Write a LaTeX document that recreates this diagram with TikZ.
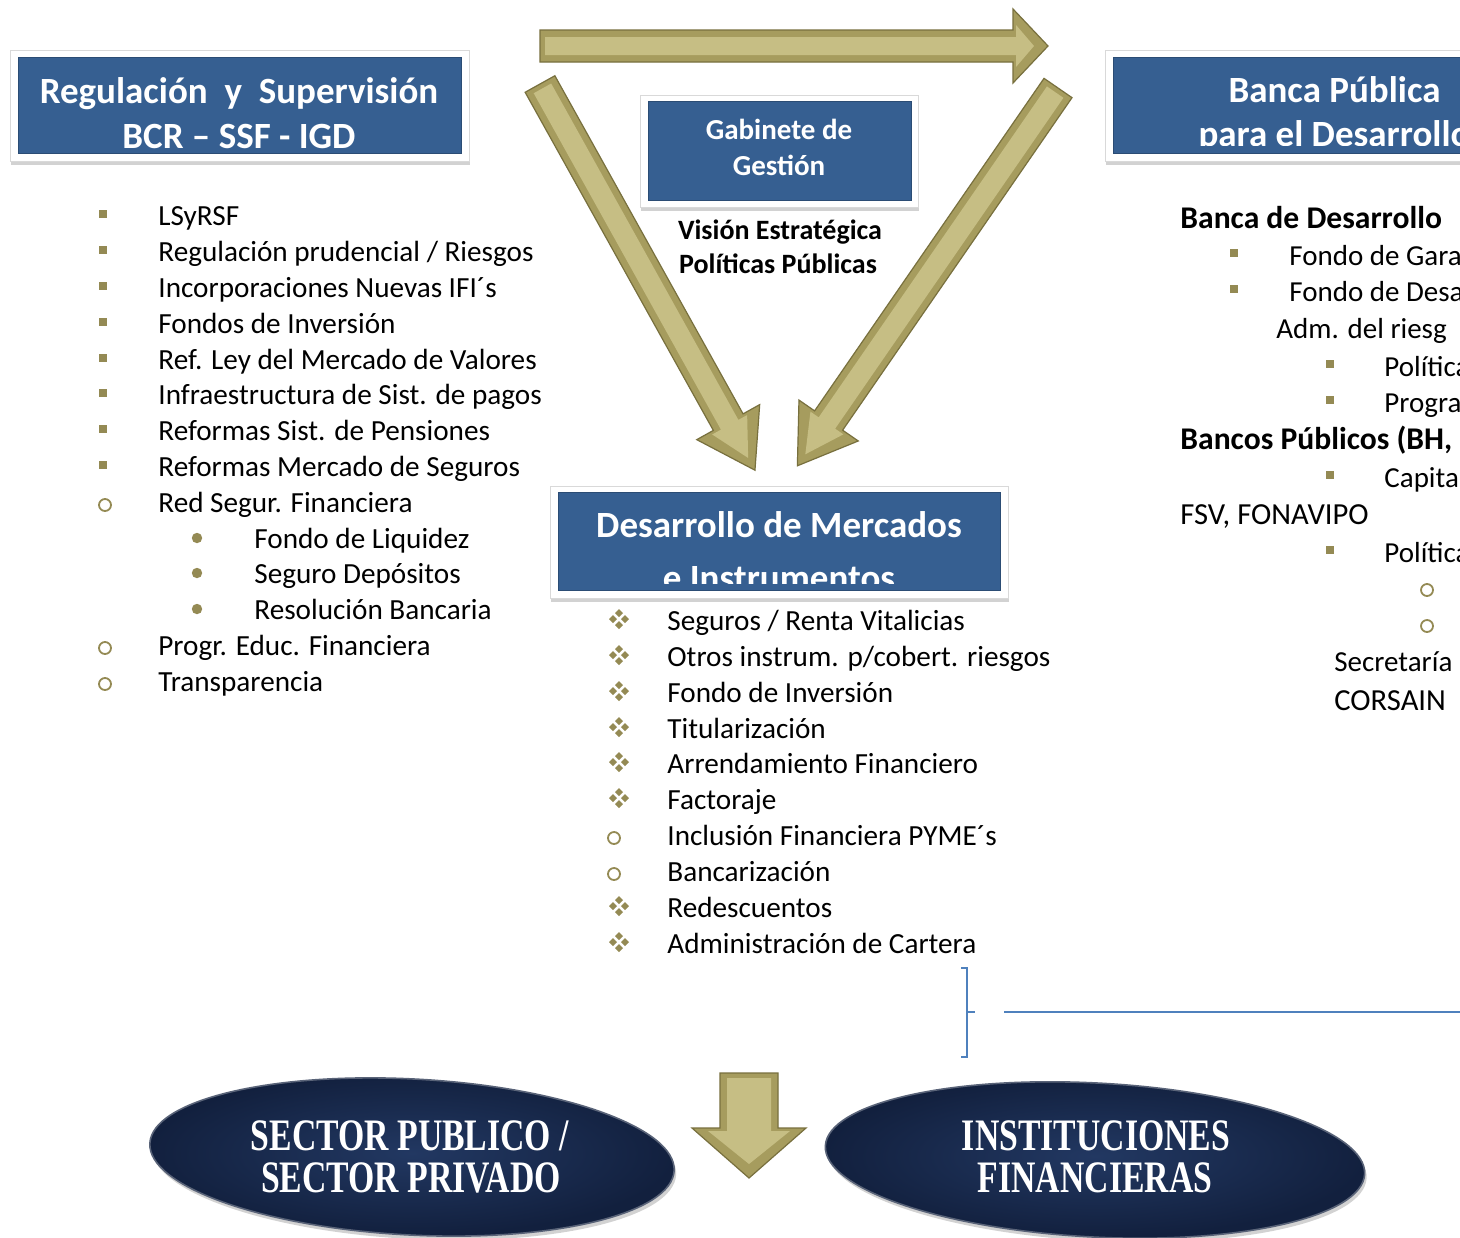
\documentclass[tikz,border=0pt]{standalone}
\usepackage{fontspec}
\setmainfont{Carlito}
\newfontfamily\condserif{Liberation Serif}
\usetikzlibrary{shadows,shapes.geometric}
\definecolor{boxblue}{RGB}{54,95,145}
\definecolor{bulcol}{RGB}{148,138,84}
\definecolor{linkblue}{RGB}{79,129,189}
\definecolor{goldmain}{RGB}{166,156,94}
\definecolor{goldlight}{RGB}{198,190,132}
\definecolor{goldedge}{RGB}{120,112,62}
\definecolor{navyin}{RGB}{34,56,98}
\definecolor{navyout}{RGB}{18,32,62}
\newcommand\sqbul[2]{\fill[bulcol, shift={(#1,#2)}] (-4,-6) rectangle (4,2);}
\newcommand\circbul[2]{\draw[bulcol, line width=0.9pt, shift={(#1,#2)}] (0,0) circle[radius=3pt];}
\newcommand\dotbul[2]{\fill[bulcol, shift={(#1,#2)}] (0,-2) circle[radius=2.6pt];}
\newcommand\dmbul[2]{\begin{scope}[shift={(#1,#2-2)}]\foreach \p in {(0,-6),(6,0),(0,6),(-6,0)}{\fill[bulcol] \p ++(-4,0) -- ++(4,-4) -- ++(4,4) -- ++(-4,4) -- cycle;}\end{scope}}
% #1 x, #2 y, #3 angle, #4 length, #5 shaft half width, #6 head half width, #7 head length
\newcommand\goldarrow[7]{\begin{scope}[shift={(#1,#2)}, rotate=#3]
\fill[goldmain, draw=goldedge, line width=0.6pt] (0,#5) -- (#4-#7,#5) -- (#4-#7,#6) -- (#4,0) -- (#4-#7,-#6) -- (#4-#7,-#5) -- (0,-#5) -- cycle;
\fill[goldlight] (5,#5-7) -- (#4-#7+3,#5-7) -- (#4-#7+3,#6-16) -- (#4-14,0) -- (#4-#7+3,-#6+16) -- (#4-#7+3,-#5+7) -- (5,-#5+7) -- cycle;
\end{scope}}
\tikzset{
  frame/.style={fill=white, draw=black!15, line width=0.4pt, drop shadow={shadow xshift=0.6pt, shadow yshift=-1.8pt, opacity=0.35}},
  bluebox/.style={fill=boxblue, draw=boxblue!80!black, line width=0.3pt},
  titletext/.style={anchor=base, text=white, inner sep=0, font=\bfseries\fontsize{18.5}{22}\selectfont},
  gabtext/.style={anchor=base, text=white, inner sep=0, font=\bfseries\fontsize{14.5}{17}\selectfont},
  boldcap/.style={anchor=base, inner sep=0, font=\bfseries\fontsize{14}{17}\selectfont},
  body/.style={anchor=base west, inner sep=0, font=\fontsize{14.6}{17}\selectfont},
  rbody/.style={anchor=base west, inner sep=0, font=\fontsize{14.5}{18}\selectfont},
  rwide/.style={anchor=base west, inner sep=0, font=\fontsize{15.3}{18}\selectfont},
  rbold/.style={anchor=base west, inner sep=0, font=\bfseries\fontsize{15.8}{18}\selectfont},
  oval/.style={ellipse, inner color=navyin, outer color=navyout, draw=navyout!70!white, line width=0.8pt, drop shadow={shadow xshift=1pt, shadow yshift=-2pt, opacity=0.35}},
  ovaltext/.style={anchor=base, text=white, inner sep=0, font=\condserif\bfseries\fontsize{22.5}{27}\selectfont},
  link/.style={draw=linkblue, line width=1.1pt}
}
\begin{document}
\begin{tikzpicture}[x=0.5pt,y=-0.5pt]
\useasboundingbox (0,0) rectangle (1460,1237);
\fill[white] (0,0) rectangle (1460,1237);
\clip (0,0) rectangle (1460,1237);

% ---------- gold arrows ----------
\goldarrow{540}{46}{0}{508}{16}{37}{35}
\goldarrow{540}{84}{-60.9}{442}{17}{36}{55}
\goldarrow{1058}{88}{-124.6}{459}{17}{36}{55}
\goldarrow{749}{1073}{-90}{105}{29}{57}{50}

% ---------- title boxes ----------
\node[frame, minimum width=229.5pt, minimum height=55.5pt] (regframe) at (239.5,105.5) {};
\node[bluebox, minimum width=221.5pt, minimum height=48pt] (reg) at (239.5,105) {};
\begin{scope}
\clip (18,57) rectangle (461,150);
\node[titletext] (regt1) at (239,103) {Regulación~~y~~Supervisión};
\node[titletext] (regt2) at (239,148) {BCR – SSF - IGD};
\end{scope}

\node[frame, minimum width=139pt, minimum height=56pt] (gabframe) at (779,151) {};
\node[bluebox, minimum width=131.5pt, minimum height=49.5pt] (gab) at (779.5,150.5) {};
\node[gabtext] (gabt1) at (779,139) {Gabinete de};
\node[gabtext] (gabt2) at (779,175) {Gestión};
\node[boldcap] (vis1) at (780,239) {Visión Estratégica};
\node[boldcap] (vis2) at (778,273) {Políticas Públicas};

\node[frame, minimum width=229pt, minimum height=56pt] (desframe) at (779,542) {};
\node[bluebox, minimum width=221pt, minimum height=49pt] (des) at (779,541) {};
\begin{scope}
\clip (558,492) rectangle (1000,583);
\node[titletext] (dest1) at (779,537) {Desarrollo de Mercados};
\node[titletext] (dest2) at (779,590) {e Instrumentos};
\end{scope}

\node[frame, minimum width=207.5pt, minimum height=55.5pt] (bpframe) at (1312.5,105.5) {};
\node[bluebox, minimum width=198.5pt, minimum height=48pt] (bp) at (1311.5,105) {};
\begin{scope}
\clip (1113,57) rectangle (1460,145);
\node[titletext] (bpt1) at (1334.5,102) {Banca Pública};
\node[titletext] (bpt2) at (1334.5,146.5) {para el Desarrollo};
\end{scope}

% ---------- left list ----------
\sqbul{103}{216}\node[body] (l1) at (158,225) {LSyRSF};
\sqbul{103}{252}\node[body] (l2) at (158,261) {Regulación prudencial / Riesgos};
\sqbul{103}{288}\node[body] (l3) at (158,297) {Incorporaciones Nuevas IFI´s};
\sqbul{103}{324}\node[body] (l4) at (158,333) {Fondos de Inversión};
\sqbul{103}{360}\node[body] (l5) at (158,369) {Ref. Ley del Mercado de Valores};
\sqbul{103}{395}\node[body] (l6) at (158,404) {Infraestructura de Sist. de pagos};
\sqbul{103}{431}\node[body] (l7) at (158,440) {Reformas Sist. de Pensiones};
\sqbul{103}{467}\node[body] (l8) at (158,476) {Reformas Mercado de Seguros};
\circbul{105}{505}\node[body] (l9) at (158,512) {Red Segur. Financiera};
\dotbul{197}{540}\node[body] (l10) at (254,548) {Fondo de Liquidez};
\dotbul{197}{575}\node[body] (l11) at (254,583) {Seguro Depósitos};
\dotbul{197}{611}\node[body] (l12) at (254,619) {Resolución Bancaria};
\circbul{105}{648}\node[body] (l13) at (158,655) {Progr. Educ. Financiera};
\circbul{105}{684}\node[body] (l14) at (158,691) {Transparencia};

% ---------- middle list ----------
\dmbul{619}{621}\node[body] (m1) at (667,630) {Seguros / Renta Vitalicias};
\dmbul{619}{657}\node[body] (m2) at (667,666) {Otros instrum. p/cobert. riesgos};
\dmbul{619}{693}\node[body] (m3) at (667,702) {Fondo de Inversión};
\dmbul{619}{729}\node[body] (m4) at (667,738) {Titularización};
\dmbul{619}{764}\node[body] (m5) at (667,773) {Arrendamiento Financiero};
\dmbul{619}{800}\node[body] (m6) at (667,809) {Factoraje};
\circbul{614}{838}\node[body] (m7) at (667,845) {Inclusión Financiera PYME´s};
\circbul{614}{874}\node[body] (m8) at (667,881) {Bancarización};
\dmbul{619}{908}\node[body] (m9) at (667,917) {Redescuentos};
\dmbul{619}{944}\node[body] (m10) at (667,953) {Administración de Cartera};

% ---------- right column ----------
\node[rbold] (r1) at (1180,228) {Banca de Desarrollo};
\sqbul{1234}{255}\node[rbody] (r2) at (1289,265) {Fondo de Gara};
\sqbul{1234}{291}\node[rbody] (r3) at (1289,301) {Fondo de Desa};
\node[rbody] (r4) at (1276,338) {Adm. del riesg};
\sqbul{1330}{366}\node[rbody] (r5) at (1384,376) {Política};
\sqbul{1330}{402}\node[rbody] (r6) at (1384,412) {Progra};
\node[rbold] (r7) at (1180,449) {Bancos Públicos (BH,};
\sqbul{1330}{477}\node[rbody] (r8) at (1384,487) {Capita};
\node[rwide] (r9) at (1180,524) {FSV, FONAVIPO};
\sqbul{1330}{552}\node[rbody] (r10) at (1384,562) {Política};
\circbul{1427}{590}
\circbul{1427}{626}
\node[rbody] (r11) at (1334,671) {Secretaría};
\node[rwide] (r12) at (1334,710) {CORSAIN};

% ---------- bracket and link ----------
\coordinate (brtop) at (961,968);
\coordinate (brbot) at (961,1057);
\coordinate (brtip) at (975,1012);
\coordinate (lnstart) at (1004,1012);
\coordinate (lnend) at (1460,1012);
\draw[link, line width=0.9pt] (brtop) -- (967,968) -- (967,1057) -- (brbot);
\draw[link, line width=0.9pt] (967,1012) -- (brtip);
\draw[link] (lnstart) -- (lnend);

% ---------- ovals ----------
\node[oval, minimum width=262.5pt, minimum height=78pt, rotate=-3] (pub) at (412,1157) {};
\node[ovaltext] (pubt1) at (410,1150) {\scalebox{0.75}[1]{SECTOR PUBLICO /}};
\node[ovaltext] (pubt2) at (411,1192) {\scalebox{0.75}[1]{SECTOR PRIVADO}};
\node[oval, minimum width=270pt, minimum height=77pt, rotate=-3] (inst) at (1095,1160) {};
\node[ovaltext] (instt1) at (1096,1150) {\scalebox{0.75}[1]{INSTITUCIONES}};
\node[ovaltext] (instt2) at (1095,1192) {\scalebox{0.75}[1]{FINANCIERAS}};
\end{tikzpicture}
\end{document}
